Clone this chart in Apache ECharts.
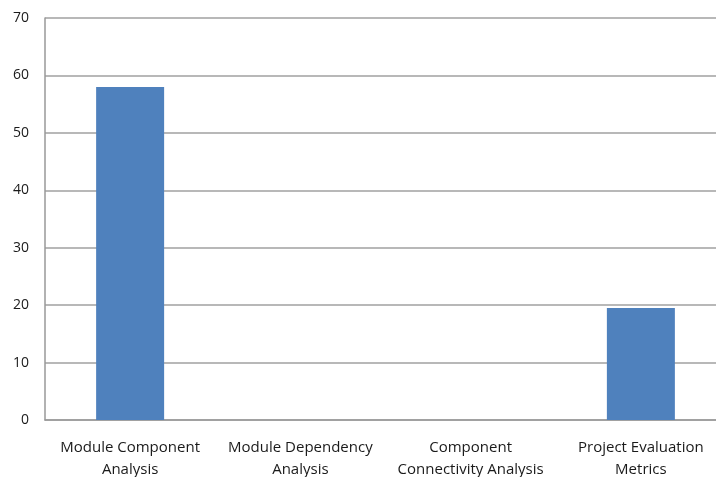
<!DOCTYPE html>
<html><head><meta charset="utf-8">
<script src="https://cdn.jsdelivr.net/npm/echarts@6/dist/echarts.min.js"></script>
<style>html,body{margin:0;padding:0;background:#fff}#c{width:716px;height:477px}</style>
</head><body><div id="c"></div>
<script>
const categories = ["Module Component\nAnalysis", "Module Dependency\nAnalysis", "Component\nConnectivity Analysis", "Project Evaluation\nMetrics"];
const values = [58, 0, 0, 19.5];
const yTicks = [0, 10, 20, 30, 40, 50, 60, 70];

const chart = echarts.init(document.getElementById('c'));
chart.setOption({
  animation: false,
  grid: { left: 45, top: 18, width: 681, height: 402, containLabel: false, outerBoundsMode: 'none' },
  xAxis: {
    type: 'category', data: categories,
    axisLine: { lineStyle: { color: '#999', width: 1.5 } },
    axisTick: { show: false },
    axisLabel: { color: '#1a1a1a', fontFamily: 'Open Sans', fontSize: 15, lineHeight: 22, margin: 17, interval: 0 }
  },
  yAxis: {
    type: 'value', min: yTicks[0], max: yTicks[yTicks.length - 1], interval: 10,
    axisLine: { show: true, lineStyle: { color: '#999', width: 1.5 } },
    axisTick: { show: false },
    splitLine: { lineStyle: { color: '#a0a0a0', width: 1.5 } },
    axisLabel: { color: '#1a1a1a', fontFamily: 'Open Sans', fontSize: 14, margin: 16 }
  },
  series: [{
    type: 'bar', data: values, barWidth: 68,
    itemStyle: { color: '#4f81bd' }
  }]
});
</script></body></html>
